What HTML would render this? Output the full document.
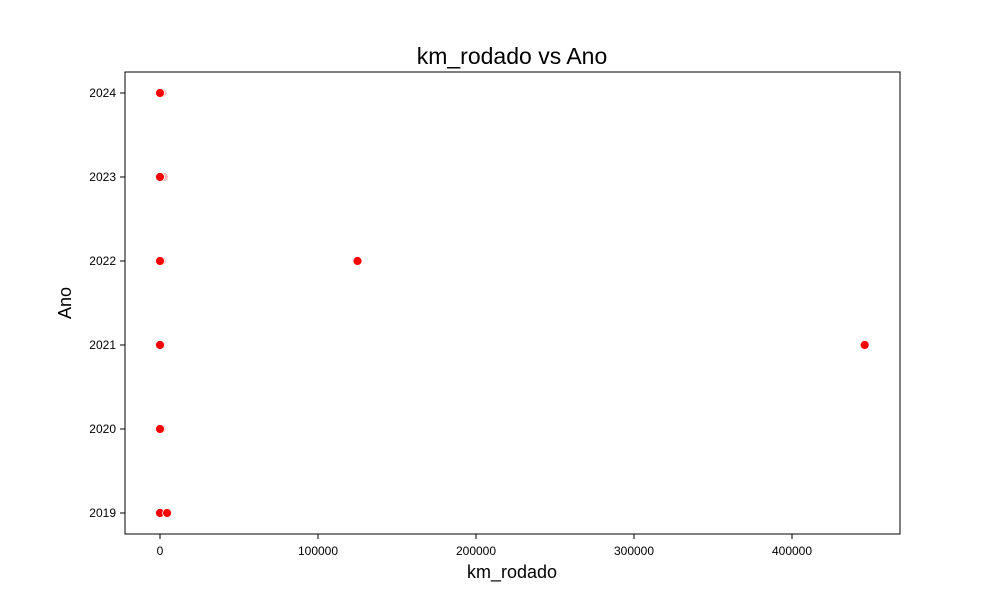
<!DOCTYPE html>
<html><head><meta charset="utf-8"><style>body{margin:0;background:#fff}svg{display:block;font-family:"Liberation Sans","DejaVu Sans",sans-serif}</style></head>
<body>
<svg id="chart" width="1000" height="600">
<rect x="0" y="0" width="1000" height="600" fill="#fff"/>
<text x="512" y="64" font-size="23" text-anchor="middle">km_rodado vs Ano</text>
<g id="xt"></g><g id="yt"></g><g id="pts"></g>
<rect x="125" y="72" width="775" height="462" fill="none" stroke="#000" stroke-width="1"/>
<text x="512" y="578" font-size="18" text-anchor="middle">km_rodado</text>
<text transform="translate(71,303) rotate(-90)" font-size="18" text-anchor="middle">Ano</text>
</svg>
<script>
const kmValues=[1500,2500,1200,800,1000,0,0,0,0,0,0,125000,446000,4500];
const anoValues=[2024,2023,2022,2021,2020,2024,2023,2022,2021,2020,2019,2022,2021,2019];
const faintFlags=[1,1,1,1,1,0,0,0,0,0,0,0,0,0];
const xTicks=[0,100000,200000,300000,400000];
const yTicks=[2019,2020,2021,2022,2023,2024];
const NS="http://www.w3.org/2000/svg";
const xs=v=>160+v*(792-160)/400000;
const ys=v=>513-(v-2019)*84;
function mk(t,a,p){const e=document.createElementNS(NS,t);for(const k in a)e.setAttribute(k,a[k]);p.appendChild(e);return e;}
const xt=document.getElementById('xt'),yt=document.getElementById('yt'),pts=document.getElementById('pts');
xTicks.forEach(v=>{const x=xs(v);
const l=mk('line',{x1:x,x2:x,y1:534,y2:539,stroke:'#000'},xt);


const t=mk('text',{x:x,y:555,'font-size':12,'text-anchor':'middle'},xt);t.textContent=v;

});
yTicks.forEach(v=>{const y=ys(v);
const l=mk('line',{x1:120,x2:125,y1:y,y2:y,stroke:'#000'},yt);


const t=mk('text',{x:116,y:y+4,'font-size':12,'text-anchor':'end'},yt);t.textContent=v;

});
kmValues.forEach((v,i)=>{const c=mk('circle',{cx:xs(v),cy:ys(anoValues[i]),r:4.5,fill:'#ff0000',stroke:'#fff','stroke-width':0.8,opacity:faintFlags[i]?0.25:1},pts);

});
</script>
</body></html>
